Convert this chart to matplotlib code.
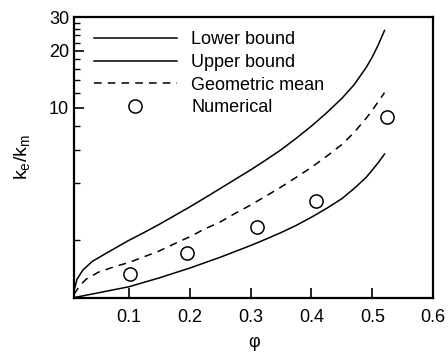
import numpy as np
import matplotlib
matplotlib.use("Agg")
import matplotlib.pyplot as plt
from matplotlib.ticker import FixedLocator, NullFormatter, FixedFormatter

plt.rcParams['font.family'] = ['Liberation Sans', 'DejaVu Sans']
plt.rcParams['mathtext.default'] = 'regular'

# bounds
phi_upper = [0.01, 0.015, 0.025, 0.04, 0.06, 0.08, 0.10, 0.125, 0.15, 0.175, 0.20, 0.225, 0.25,
             0.275, 0.30, 0.325, 0.35, 0.375, 0.40, 0.425, 0.45, 0.47, 0.49, 0.50, 0.51, 0.52]
k_upper = [1.08, 1.25, 1.40, 1.55, 1.69, 1.84, 2.0, 2.2, 2.43, 2.7, 3.0, 3.35, 3.75,
           4.2, 4.7, 5.3, 6.0, 6.9, 8.0, 9.4, 11.2, 13.2, 16.3, 18.5, 21.5, 25.5]

phi_lower = [0.01, 0.05, 0.10, 0.15, 0.20, 0.25, 0.30, 0.325, 0.35, 0.375, 0.40, 0.425,
             0.45, 0.47, 0.49, 0.50, 0.51, 0.52]
k_lower = [1.0, 1.06, 1.14, 1.27, 1.43, 1.63, 1.88, 2.03, 2.2, 2.4, 2.65, 2.95,
           3.32, 3.75, 4.3, 4.7, 5.15, 5.7]

phi_geo = [0.01, 0.02, 0.03, 0.05, 0.075, 0.10, 0.125, 0.15, 0.175, 0.20, 0.225, 0.25, 0.275,
           0.30, 0.325, 0.35, 0.375, 0.40, 0.425, 0.45, 0.47, 0.49, 0.50, 0.51, 0.52]
k_geo = [1.04, 1.16, 1.25, 1.36, 1.45, 1.53, 1.64, 1.76, 1.92, 2.09, 2.3, 2.5, 2.78,
         3.07, 3.42, 3.82, 4.3, 4.85, 5.55, 6.4, 7.4, 8.8, 9.7, 10.8, 12.0]

phi_num = [0.102, 0.196, 0.311, 0.408, 0.524]
k_num = [1.33, 1.71, 2.35, 3.24, 8.88]

fig = plt.figure(figsize=(4.48, 3.56), dpi=100)
ax = fig.add_axes([0.165, 0.164, 0.802, 0.788])

ax.plot(phi_lower, k_lower, color='k', lw=1.1, label='Lower bound')
ax.plot(phi_upper, k_upper, color='k', lw=1.1, label='Upper bound')
ax.plot(phi_geo, k_geo, color='k', lw=1.1, dashes=(5, 4), label='Geometric mean')
ax.plot(phi_num, k_num, 'o', ms=9.5, mfc='none', mec='k', mew=1.1, label='Numerical')

ax.set_yscale('log')
ax.set_xlim(0.01, 0.6)
ax.set_ylim(1, 30)

ax.xaxis.set_major_locator(FixedLocator([0.1, 0.2, 0.3, 0.4, 0.5, 0.6]))
ax.set_xticklabels(['0.1', '0.2', '0.3', '0.4', '0.5', '0.6'])
ax.yaxis.set_major_locator(FixedLocator([10, 20, 30]))
ax.yaxis.set_major_formatter(FixedFormatter(['10', '20', '30']))
ax.yaxis.set_minor_locator(FixedLocator([2, 4, 6, 8, 12, 14, 16, 18, 22, 24, 26, 28]))
ax.yaxis.set_minor_formatter(NullFormatter())

ax.tick_params(which='major', direction='in', length=7, width=1.2, labelsize=13)
ax.tick_params(which='minor', direction='in', length=4, width=1.0)
ax.tick_params(axis='x', pad=8)
for s in ax.spines.values():
    s.set_linewidth(1.6)

ax.set_xlabel('φ', fontsize=13, labelpad=6)
ax.set_ylabel('k$_e$/k$_m$', fontsize=14, labelpad=12)

ax.legend(loc='upper left', frameon=False, fontsize=13, handlelength=4.6,
          handletextpad=0.8, labelspacing=0.32, borderaxespad=0.3,
          bbox_to_anchor=(0.02, 0.995))

fig.savefig('out.png', dpi=100)
